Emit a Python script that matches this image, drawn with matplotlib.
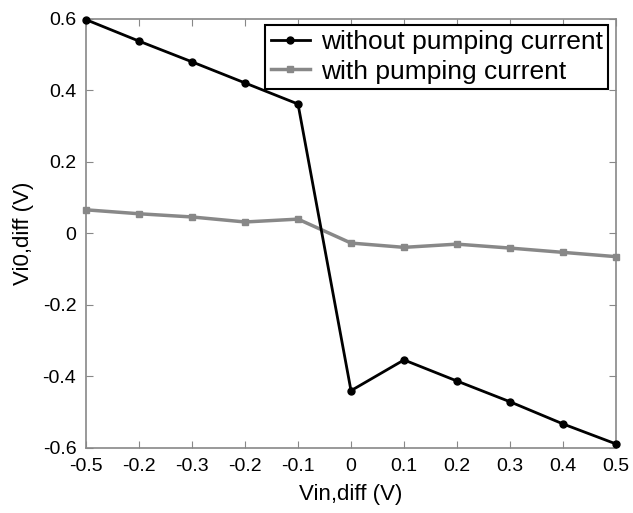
import numpy as np
import matplotlib.pyplot as plt

plt.rcParams['font.family'] = ['Liberation Sans', 'DejaVu Sans']

# data
x = [-0.5, -0.4, -0.3, -0.2, -0.1, 0.0, 0.1, 0.2, 0.3, 0.4, 0.5]
without_pump = [0.598, 0.538, 0.480, 0.421, 0.362, -0.440, -0.354, -0.413, -0.471, -0.533, -0.589]
with_pump = [0.066, 0.055, 0.046, 0.032, 0.040, -0.027, -0.039, -0.030, -0.041, -0.053, -0.065]
xtick_labels = ['-0.5', '-0.2', '-0.3', '-0.2', '-0.1', '0', '0.1', '0.2', '0.3', '0.4', '0.5']
yticks = [-0.6, -0.4, -0.2, 0, 0.2, 0.4, 0.6]

fig = plt.figure(figsize=(6.33, 5.13), dpi=100)
ax = fig.add_axes([0.136, 0.127, 0.837, 0.836])

ax.plot(x, without_pump, color='black', lw=2, marker='o', ms=5,
        label='without pumping current', clip_on=False, zorder=3)
ax.plot(x, with_pump, color='#888888', lw=2.5, marker='s', ms=5,
        label='with pumping current', clip_on=False, zorder=2)

ax.set_xlim(-0.5, 0.5)
ax.set_ylim(-0.6, 0.6)
ax.set_xticks(x)
ax.set_xticklabels(xtick_labels)
ax.set_yticks(yticks)
ax.set_yticklabels(['-0.6', '-0.4', '-0.2', '0', '0.2', '0.4', '0.6'])

for s in ax.spines.values():
    s.set_color('#888888')
    s.set_linewidth(1.2)
ax.tick_params(direction='in', top=True, right=True, color='#888888',
               length=5, labelsize=14, pad=7)

ax.set_xlabel('Vin,diff (V)', fontsize=16, labelpad=7)
ax.set_ylabel('Vi0,diff (V)', fontsize=16, labelpad=6)

leg = ax.legend(loc='upper right', bbox_to_anchor=(0.985, 0.986), fontsize=19,
                fancybox=False, framealpha=1, edgecolor='black',
                handlelength=1.5, handletextpad=0.4, borderpad=0.2,
                labelspacing=0.2, borderaxespad=0)
leg.get_frame().set_linewidth(1.5)

fig.savefig('out.png', dpi=100)
